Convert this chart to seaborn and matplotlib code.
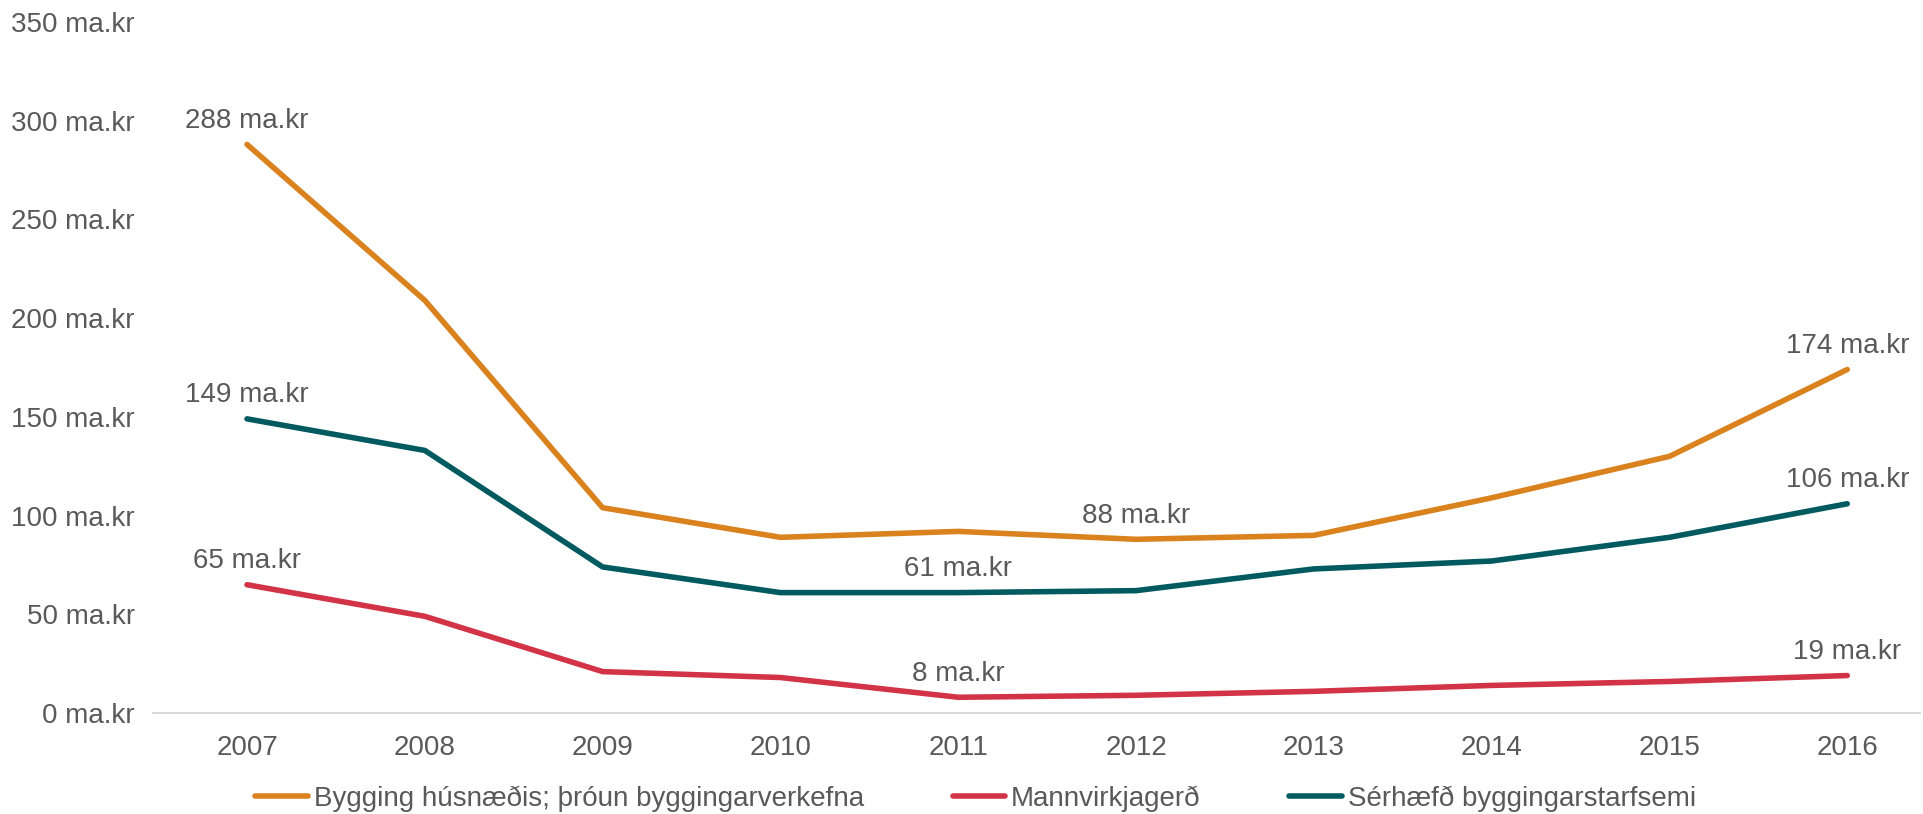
import matplotlib
matplotlib.use("Agg")
import matplotlib.pyplot as plt
import seaborn as sns
import pandas as pd

years = [2007, 2008, 2009, 2010, 2011, 2012, 2013, 2014, 2015, 2016]
series_names = ["Bygging húsnæðis; þróun byggingarverkefna",
                "Mannvirkjagerð",
                "Sérhæfð byggingarstarfsemi"]
bygging = [288, 209, 104, 89, 92, 88, 90, 109, 130, 174]
mannvirkjagerd = [65, 49, 21, 18, 8, 9, 11, 14, 16, 19]
serhaefd = [149, 133, 74, 61, 61, 62, 73, 77, 89, 106]
colors = ["#D9821E", "#D33347", "#005A5F"]
yticks = [0, 50, 100, 150, 200, 250, 300, 350]
labeled = {0: [0, 5, 9], 1: [0, 4, 9], 2: [0, 4, 9]}

values = [bygging, mannvirkjagerd, serhaefd]
rows = []
for name, vals in zip(series_names, values):
    for i, (y, v) in enumerate(zip(years, vals)):
        rows.append({"idx": i, "year": y, "value": v, "series": name})
df = pd.DataFrame(rows)

sns.set_theme(style="white")
plt.rcParams['font.family'] = ['Liberation Sans', 'DejaVu Sans']
text_color = "#595959"
fs = 20

fig = plt.figure(figsize=(19.24, 8.14), dpi=100)
ax = fig.add_axes([0.0795, 0.124, 0.9185, 0.849])
sns.lineplot(data=df, x="idx", y="value", hue="series", palette=colors,
             hue_order=series_names, linewidth=4.0, ax=ax, legend=True,
             solid_capstyle="round", solid_joinstyle="round")

for si, (name, vals) in enumerate(zip(series_names, values)):
    for i in labeled[si]:
        ax.annotate(f"{vals[i]} ma.kr", (i, vals[i]), xytext=(0, 17),
                    textcoords="offset points", ha="center", va="center",
                    fontsize=fs, color=text_color)

ax.set_xlim(-0.529, 9.41)
ax.set_ylim(0, 350)
ax.set_xticks(range(len(years)))
ax.set_xticklabels([str(y) for y in years])
ax.set_yticks(yticks)
ax.set_yticklabels([f"{t} ma.kr" for t in yticks])
ax.tick_params(axis="both", length=0, labelsize=fs, labelcolor=text_color)
ax.tick_params(axis="x", pad=16)
ax.tick_params(axis="y", pad=13)
ax.set_xlabel("")
ax.set_ylabel("")
for s in ["top", "right", "left"]:
    ax.spines[s].set_visible(False)
ax.spines["bottom"].set_color("#D9D9D9")
ax.spines["bottom"].set_linewidth(1.5)
ax.grid(False)

handles, labels = ax.get_legend_handles_labels()
ax.get_legend().remove()
fig.legend(handles, labels, loc="center", bbox_to_anchor=(0.507, 0.0185),
           ncol=3, frameon=False, fontsize=fs, handlelength=1.9,
           handletextpad=0.2, columnspacing=3.2, labelcolor=text_color,
           borderpad=0, borderaxespad=0)

fig.savefig("out.png", dpi=100, facecolor="white")
